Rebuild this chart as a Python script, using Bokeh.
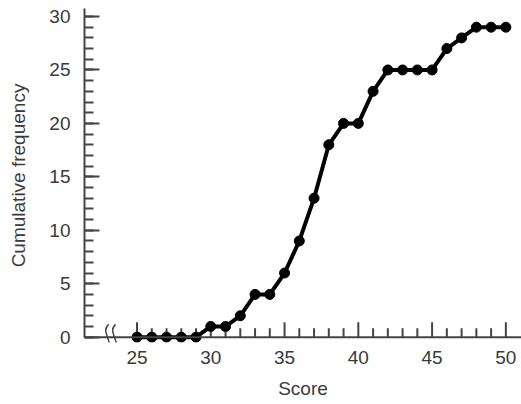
from bokeh.plotting import figure
from bokeh.models import FixedTicker, Range1d, Span
from bokeh.embed import file_html
from bokeh.resources import INLINE

scores = [25, 26, 27, 28, 29, 30, 31, 32, 33, 34, 35, 36, 37, 38, 39, 40, 41, 42, 43, 44, 45, 46, 47, 48, 49, 50]
cum_freq = [0, 0, 0, 0, 0, 1, 1, 2, 4, 4, 6, 9, 13, 18, 20, 20, 23, 25, 25, 25, 25, 27, 28, 29, 29, 29]
x_ticks = [25, 30, 35, 40, 45, 50]
x_minor = list(range(25, 51))
y_ticks = [0, 5, 10, 15, 20, 25, 30]
y_minor = list(range(0, 31))
break_x = [23.0, 23.47]

FONT = "Liberation Sans"
AX = "#444444"
TXT = "#3a3a3a"

YMIN, YMAX = -0.5, 30.75
FRAME_H = 334
PX = (YMAX - YMIN) / FRAME_H  # data units per pixel (vertical)

p = figure(frame_width=437, frame_height=FRAME_H,
           x_range=Range1d(21.44, 51.06), y_range=Range1d(YMIN, YMAX),
           output_backend="svg", toolbar_location=None,
           min_border_left=84, min_border_right=0, min_border_top=8, min_border_bottom=0)
p.outline_line_color = None
p.xgrid.visible = False
p.ygrid.visible = False
p.background_fill_color = "white"
p.border_fill_color = "white"

# x axis line at y = 0 with inward ticks
p.add_layout(Span(location=0, dimension="width", line_color=AX, line_width=2))
minor_only = [t for t in x_minor if t not in x_ticks]
p.segment(x0=minor_only, y0=[0] * len(minor_only), x1=minor_only, y1=[9 * PX] * len(minor_only),
          line_color=AX, line_width=2)
p.segment(x0=x_ticks, y0=[0] * len(x_ticks), x1=x_ticks, y1=[15 * PX] * len(x_ticks),
          line_color=AX, line_width=2)

# axis break marks
for bx in break_x:
    p.bezier(x0=[bx + 0.08], y0=[1.2], x1=[bx - 0.08], y1=[-1.2],
             cx0=[bx - 0.55], cy0=[0.5], cx1=[bx + 0.55], cy1=[-0.5],
             line_color=AX, line_width=1.5)

# data
p.line(scores, cum_freq, line_color="black", line_width=4)
p.scatter(scores, cum_freq, size=10, fill_color="black", line_color="black")

xa = p.xaxis[0]
xa.ticker = FixedTicker(ticks=x_ticks, minor_ticks=[])
xa.axis_label = "Score"
xa.axis_line_color = None
xa.major_tick_line_color = None
xa.minor_tick_line_color = None
xa.major_tick_in = 0
xa.major_tick_out = 0
xa.minor_tick_in = 0
xa.minor_tick_out = 0

ya = p.yaxis[0]
ya.ticker = FixedTicker(ticks=y_ticks, minor_ticks=y_minor)
ya.axis_label = "Cumulative frequency"
ya.bounds = (0, YMAX)
ya.axis_line_color = AX
ya.axis_line_width = 2
ya.major_tick_line_color = AX
ya.minor_tick_line_color = AX
ya.major_tick_line_width = 2
ya.minor_tick_line_width = 2
ya.major_tick_in = 15
ya.major_tick_out = 0
ya.minor_tick_in = 9
ya.minor_tick_out = 0

for ax in (xa, ya):
    ax.major_label_text_font = FONT
    ax.major_label_text_font_size = "19px"
    ax.major_label_text_color = TXT
    ax.axis_label_text_font = FONT
    ax.axis_label_text_font_size = "19px"
    ax.axis_label_text_font_style = "normal"
    ax.axis_label_text_color = TXT

xa.major_label_standoff = 8
xa.axis_label_standoff = 11
ya.major_label_standoff = 14
ya.axis_label_standoff = 17

open("out.html", "w").write(file_html(p, INLINE))
